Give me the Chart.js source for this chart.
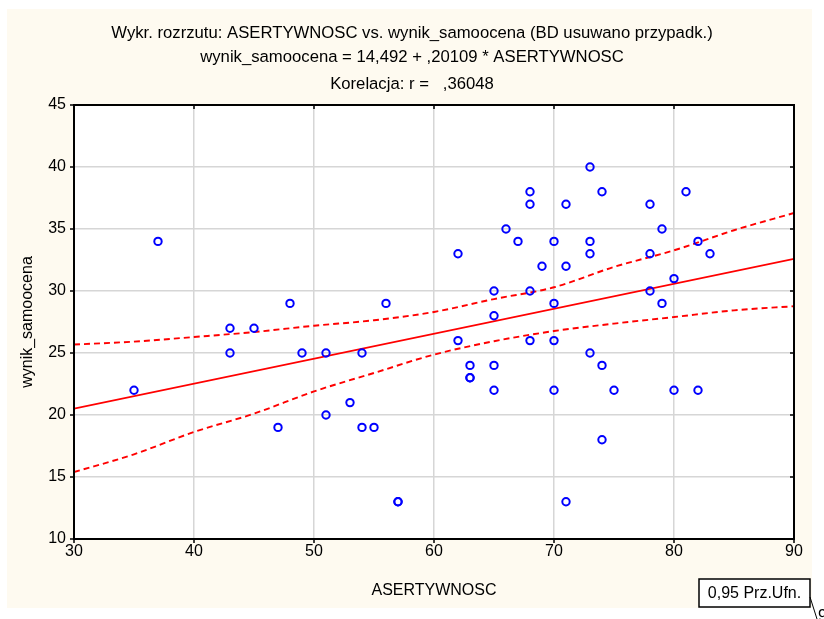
<!DOCTYPE html>
<html>
<head>
<meta charset="utf-8">
<script src="https://cdn.jsdelivr.net/npm/chart.js@4/dist/chart.umd.min.js"></script>
<style>
  html, body { margin: 0; padding: 0; background: #ffffff; }
  #wrap { width: 824px; height: 619px; position: relative; }
</style>
</head>
<body>
<div id="wrap"><canvas id="c" width="824" height="619"></canvas></div>
<script>
// ---- data ----
const titleLines = [
  "Wykr. rozrzutu: ASERTYWNOSC vs. wynik_samoocena (BD usuwano przypadk.)",
  "wynik_samoocena = 14,492 + ,20109 * ASERTYWNOSC",
  "Korelacja: r =   ,36048"
];
const xTitle = "ASERTYWNOSC";
const yTitle = "wynik_samoocena";
const legendLabel = "0,95 Prz.Ufn.";

const asertywnosc = [35, 37, 43, 43, 45, 48, 47, 49, 51, 51, 53, 54, 54, 55, 56, 57, 57,
  62, 62, 63, 63, 63, 65, 65, 65, 65, 66, 67, 68, 68, 68, 68, 69,
  70, 70, 70, 70, 71, 71, 71, 73, 73, 73, 73, 74, 74, 74, 75,
  78, 78, 78, 79, 79, 80, 80, 81, 82, 82, 83];
const samoocena = [22, 34, 27, 25, 27, 29, 19, 25, 25, 20, 21, 25, 19, 19, 29, 13, 13,
  33, 26, 24, 23, 23, 30, 28, 24, 22, 35, 34, 38, 37, 30, 26, 32,
  34, 29, 26, 22, 37, 32, 13, 40, 34, 33, 25, 38, 24, 18, 22,
  37, 33, 30, 35, 29, 31, 22, 38, 34, 22, 33];

// regression line end points (x = 30 and x = 90)
const regX = [30, 90];
const regY = [20.52, 32.59];

// 95% confidence band, read at x = 30, 35, ..., 90
const bandX = [30, 35, 40, 45, 50, 55, 60, 65, 70, 75, 80, 85, 90];
const bandUpper = [25.68, 25.92, 26.29, 26.69, 27.2, 27.64, 28.31, 29.35, 30.3, 31.94, 33.28, 34.9, 36.29];
const bandLower = [15.4, 16.83, 18.63, 20.11, 21.9, 23.39, 24.87, 25.95, 26.77, 27.37, 27.9, 28.44, 28.77];

const xTicks = [30, 40, 50, 60, 70, 80, 90];
const yTicks = [10, 15, 20, 25, 30, 35, 40, 45];

// ---- build chart ----
const FONT = "'Liberation Sans', Arial, sans-serif";
const pts = asertywnosc.map((x, i) => ({ x: x, y: samoocena[i] }));
const reg = regX.map((x, i) => ({ x: x, y: regY[i] }));
const up = bandX.map((x, i) => ({ x: x, y: bandUpper[i] }));
const lo = bandX.map((x, i) => ({ x: x, y: bandLower[i] }));

const decor = {
  id: 'decor',
  beforeDraw(chart) {
    const ctx = chart.ctx;
    ctx.save();
    ctx.fillStyle = '#ffffff';
    ctx.fillRect(0, 0, chart.width, chart.height);
    ctx.fillStyle = '#fefaf0';
    ctx.fillRect(7, 9, 805, 599);
    const a = chart.chartArea;
    ctx.fillStyle = '#ffffff';
    ctx.fillRect(a.left, a.top, a.right - a.left, a.bottom - a.top);
    ctx.restore();
  },
  afterDraw(chart) {
    const ctx = chart.ctx;
    const a = chart.chartArea;
    const xs = chart.scales.x, ys = chart.scales.y;
    ctx.save();
    // frame
    ctx.strokeStyle = '#000000';
    ctx.lineWidth = 2;
    ctx.strokeRect(a.left, a.top, a.right - a.left, a.bottom - a.top);
    ctx.lineWidth = 1.5;
    ctx.beginPath();
    xTicks.forEach(v => {
      const px = xs.getPixelForValue(v);
      ctx.moveTo(px, a.top); ctx.lineTo(px, a.top + 4);
      ctx.moveTo(px, a.bottom); ctx.lineTo(px, a.bottom + 4);
    });
    yTicks.forEach(v => {
      const py = ys.getPixelForValue(v);
      ctx.moveTo(a.right, py); ctx.lineTo(a.right - 4, py);
      ctx.moveTo(a.left, py); ctx.lineTo(a.left - 4, py);
    });
    ctx.stroke();
    // titles
    ctx.fillStyle = '#000000';
    ctx.font = '16.7px ' + FONT;
    ctx.textAlign = 'center';
    ctx.textBaseline = 'middle';
    ctx.fillText(titleLines[0], 412, 33);
    ctx.fillText(titleLines[1], 412, 57);
    ctx.fillText(titleLines[2], 412, 84);
    // axis titles
    ctx.font = '16px ' + FONT;
    ctx.fillText(xTitle, (a.left + a.right) / 2, 591);
    ctx.save();
    ctx.translate(28, (a.top + a.bottom) / 2);
    ctx.rotate(-Math.PI / 2);
    ctx.fillText(yTitle, 0, 0);
    ctx.restore();
    // legend box
    ctx.fillStyle = '#ffffff';
    ctx.fillRect(699, 579, 111, 28);
    ctx.strokeStyle = '#000000';
    ctx.lineWidth = 1.5;
    ctx.strokeRect(699, 579, 111, 28);
    ctx.fillStyle = '#000000';
    ctx.textAlign = 'center';
    ctx.fillText(legendLabel, 754.5, 594);
    ctx.lineWidth = 1;
    ctx.beginPath();
    ctx.moveTo(810, 597); ctx.lineTo(817, 619);
    ctx.stroke();
    ctx.textAlign = 'left';
    ctx.textBaseline = 'top';
    ctx.fillText('9', 818, 609);
    ctx.restore();
  }
};

new Chart(document.getElementById('c'), {
  type: 'scatter',
  data: {
    datasets: [
      {
        label: 'points',
        data: pts,
        showLine: false,
        pointStyle: 'circle',
        pointRadius: 3.7,
        pointBorderWidth: 2,
        borderColor: '#0000ff',
        backgroundColor: 'rgba(0,0,0,0)',
        order: 0
      },
      {
        type: 'line',
        label: 'reg',
        data: reg,
        borderColor: '#ff0000',
        borderWidth: 1.7,
        pointRadius: 0,
        fill: false,
        order: 1
      },
      {
        type: 'line',
        label: 'upper',
        data: up,
        borderColor: '#ff0000',
        borderWidth: 1.9,
        borderDash: [6, 4],
        pointRadius: 0,
        cubicInterpolationMode: 'monotone',
        fill: false,
        order: 2
      },
      {
        type: 'line',
        label: 'lower',
        data: lo,
        borderColor: '#ff0000',
        borderWidth: 1.9,
        borderDash: [6, 4],
        pointRadius: 0,
        cubicInterpolationMode: 'monotone',
        fill: false,
        order: 3
      }
    ]
  },
  options: {
    responsive: false,
    animation: false,
    devicePixelRatio: 1,
    layout: { padding: { left: 0, top: 105, right: 30, bottom: 0 } },
    plugins: {
      legend: { display: false },
      title: { display: false },
      tooltip: { enabled: false }
    },
    scales: {
      x: {
        type: 'linear',
        min: 30, max: 90,
        afterBuildTicks: s => { s.ticks = xTicks.map(v => ({ value: v })); },
        afterFit: s => { s.height = 80; },
        ticks: { color: '#000', font: { family: FONT, size: 16 }, padding: 3, maxRotation: 0 },
        grid: { color: '#d6d6d6', lineWidth: 1.5, drawTicks: false },
        border: { display: false }
      },
      y: {
        type: 'linear',
        min: 10, max: 45,
        afterBuildTicks: s => { s.ticks = yTicks.map(v => ({ value: v })); },
        afterFit: s => { s.width = 74; },
        ticks: { color: '#000', font: { family: FONT, size: 16 }, padding: 8 },
        grid: { color: '#d6d6d6', lineWidth: 1.5, drawTicks: false },
        border: { display: false }
      }
    }
  },
  plugins: [decor]
});
</script>
</body>
</html>
